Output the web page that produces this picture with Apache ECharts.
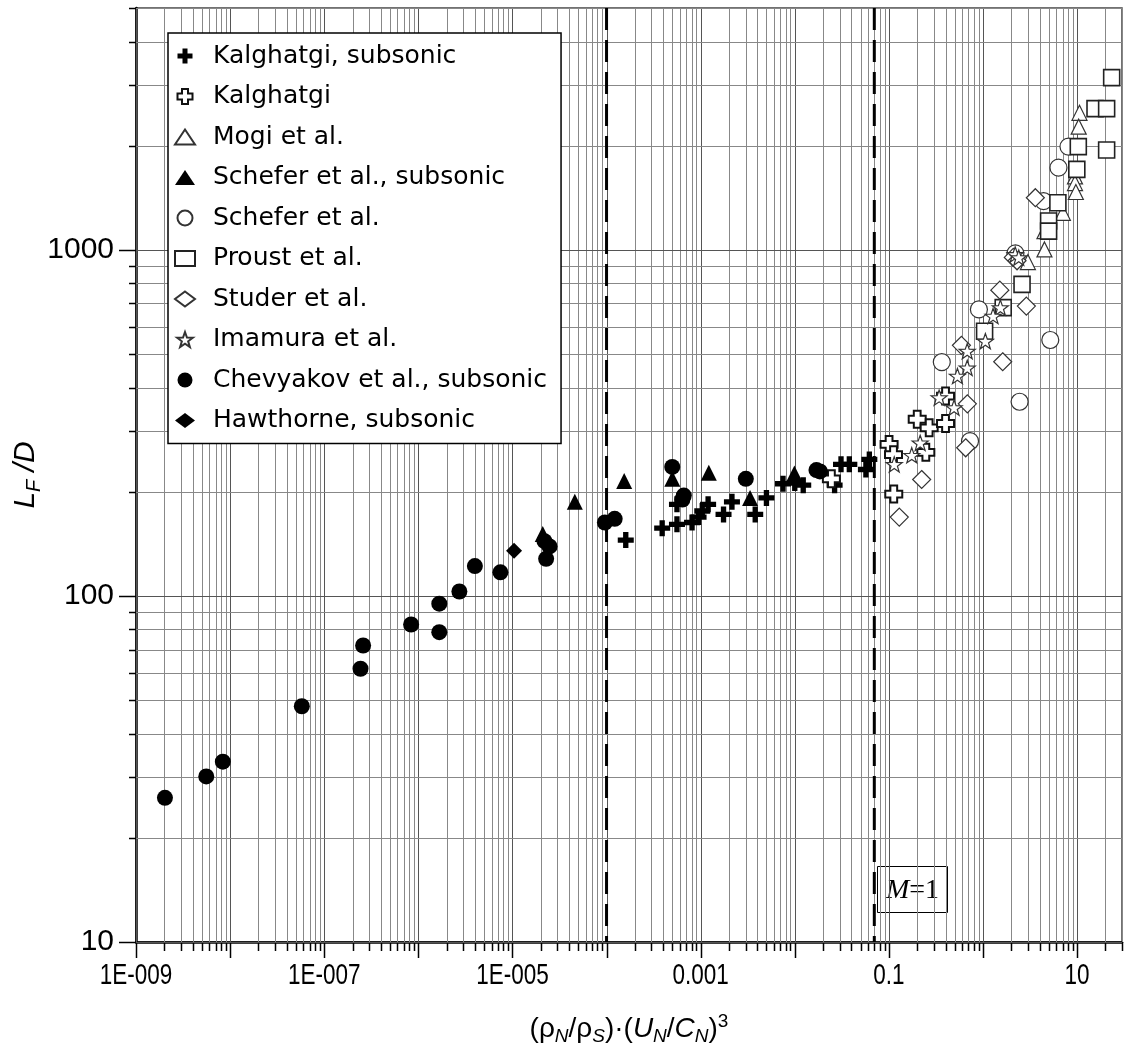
<!DOCTYPE html>
<html>
<head>
<meta charset="utf-8">
<script src="https://cdn.jsdelivr.net/npm/echarts@6/dist/echarts.min.js"></script>
<style>
html, body { margin: 0; padding: 0; background: #fff; }
#chart { width: 1126px; height: 1053px; }
</style>
</head>
<body>
<div id="chart"></div>
<script>
// axis ranges
const xMin = 1e-9, xMax = 30;
const yMin = 10, yMax = 5000;

// grid / tick positions
const xDecades = [1e-9, 1e-8, 1e-7, 1e-6, 1e-5, 1e-4, 1e-3, 1e-2, 1e-1, 1, 10];
const yDecades = [10, 100, 1000];
const minorSteps = [2, 3, 4, 5, 6, 7, 8, 9];
const xLabelValues = [1e-9, 1e-7, 1e-5, 1e-3, 0.1, 10];
const xLabelTexts = ['1E-009', '1E-007', '1E-005', '0.001', '0.1', '10'];
const yLabelValues = [10, 100, 1000];
const yLabelTexts = ['10', '100', '1000'];

// dashed vertical lines
const dashedX = [1e-4, 0.07];

// data [x, L_F/D]
const kalghatgiSub = [
  [1.6e-4, 145], [3.9e-4, 157], [5.6e-4, 161], [5.6e-4, 184], [8.1e-4, 163], [9.5e-4, 169],
  [1.04e-3, 176], [1.2e-3, 184], [1.75e-3, 172], [2.15e-3, 187], [3.8e-3, 172], [5.0e-3, 192],
  [7.5e-3, 211], [0.010, 212], [0.0123, 209], [0.0265, 209], [0.031, 240], [0.038, 240],
  [0.057, 232], [0.062, 248]
];
const kalghatgi = [
  [0.0245, 218], [0.1005, 274], [0.112, 256], [0.1127, 197], [0.20, 324], [0.247, 260],
  [0.268, 306], [0.40, 315], [0.40, 378]
];
const mogi = [
  [10.6, 2490], [10.4, 2270], [9.5, 1630], [9.5, 1560], [9.7, 1470], [7.06, 1280],
  [4.5, 1133], [4.5, 1003], [3.0, 922]
];
const scheferSub = [
  [2.1e-5, 151], [4.6e-5, 187], [1.54e-4, 215], [5.0e-4, 218], [1.22e-3, 227], [3.35e-3, 192],
  [9.9e-3, 226]
];
const schefer = [
  [8.1, 1988], [6.34, 1728], [4.4, 1384], [2.21, 977], [0.905, 673], [5.19, 549],
  [0.365, 474], [2.45, 364], [0.728, 280]
];
const proust = [
  [23.3, 3146], [15.5, 2560], [20.6, 2560], [20.6, 1944], [10.3, 1988], [9.93, 1709],
  [6.25, 1369], [4.98, 1212], [4.98, 1133], [2.6, 795], [1.64, 681], [1.04, 582]
];
const studer = [
  [1.51, 765], [2.89, 688], [0.59, 530], [1.62, 475], [0.682, 359], [0.655, 268],
  [0.223, 217], [0.129, 169], [3.6, 1415], [2.1, 951], [2.3, 930]
];
const imamura = [
  [1.53, 681], [1.28, 644], [1.06, 545], [0.68, 510], [0.68, 456], [0.535, 432],
  [0.342, 374], [0.493, 350], [0.215, 277], [0.175, 255], [0.114, 240], [2.2, 970], [2.4, 950]
];
const chevyakov = [
  [2.03e-9, 26.1], [5.58e-9, 30.1], [8.37e-9, 33.2], [5.78e-8, 48.0], [2.43e-7, 61.6],
  [2.59e-7, 71.9], [8.38e-7, 82.7], [1.67e-6, 95.0], [1.67e-6, 78.6], [2.73e-6, 103],
  [3.99e-6, 122], [7.45e-6, 117], [2.19e-5, 144], [2.48e-5, 139], [2.28e-5, 128],
  [9.6e-5, 163], [1.22e-4, 167], [4.99e-4, 236], [6.62e-4, 195], [6.4e-4, 190],
  [3.02e-3, 218], [0.017, 231], [0.0185, 229]
];
const hawthorne = [[1.04e-5, 135]];

// symbols
const PLUS = 'path://M-1,-3L1,-3L1,-1L3,-1L3,1L1,1L1,3L-1,3L-1,1L-3,1L-3,-1L-1,-1Z';
const OPEN_PLUS = 'path://M-1,-2.5L1,-2.5L1,-1L2.5,-1L2.5,1L1,1L1,2.5L-1,2.5L-1,1L-2.5,1L-2.5,-1L-1,-1Z';
const STAR = 'path://M0,-10L2.35,-3.24L9.51,-3.09L3.8,1.24L5.88,8.09L0,4L-5.88,8.09L-3.8,1.24L-9.51,-3.09L-2.35,-3.24Z';

const FILLED = { color: '#000', borderColor: '#000', borderWidth: 0, opacity: 1 };
const OPEN = { color: '#fff', borderColor: '#333', borderWidth: 1.2, opacity: 1 };

const groups = [
  { name: 'Kalghatgi, subsonic', data: kalghatgiSub, symbol: PLUS, size: 16, style: FILLED },
  { name: 'Kalghatgi', data: kalghatgi, symbol: OPEN_PLUS, size: 17, style: { color: '#fff', borderColor: '#111', borderWidth: 2, opacity: 1 } },
  { name: 'Mogi et al.', data: mogi, symbol: 'triangle', size: 15, style: OPEN },
  { name: 'Schefer et al., subsonic', data: scheferSub, symbol: 'triangle', size: 16, style: FILLED },
  { name: 'Schefer et al.', data: schefer, symbol: 'circle', size: 17, style: OPEN },
  { name: 'Proust et al.', data: proust, symbol: 'rect', size: 16, style: { color: '#fff', borderColor: '#222', borderWidth: 1.6, opacity: 1 } },
  { name: 'Studer et al.', data: studer, symbol: 'diamond', size: 18, style: OPEN },
  { name: 'Imamura et al.', data: imamura, symbol: STAR, size: 16, style: OPEN },
  { name: 'Chevyakov et al., subsonic', data: chevyakov, symbol: 'circle', size: 16, style: FILLED },
  { name: 'Hawthorne, subsonic', data: hawthorne, symbol: 'diamond', size: 16, style: FILLED }
];

const xTicks = [];
xDecades.forEach(d => {
  xTicks.push([d, yMin, 1]);
  minorSteps.forEach(s => { if (s * d < xMax * 1.001) xTicks.push([s * d, yMin, 0]); });
});
const yTicks = [];
yDecades.forEach(d => {
  yTicks.push([xMin, d, 1]);
  minorSteps.forEach(s => { if (s * d < yMax * 1.001) yTicks.push([xMin, s * d, 0]); });
});

const LABEL_FONT = 'Liberation Sans, Arial, sans-serif';

function renderXTick(params, api) {
  const cs = params.coordSys;
  const major = api.value(2) === 1;
  const x = Math.round(api.coord([api.value(0), yMin])[0]) + 0.5;
  const bottom = cs.y + cs.height;
  return {
    type: 'group',
    children: [
      { type: 'line', shape: { x1: x, y1: cs.y, x2: x, y2: bottom }, style: { stroke: major ? '#555' : '#888', lineWidth: 1 } },
      { type: 'line', shape: { x1: x, y1: bottom, x2: x, y2: bottom + (major ? 16 : 9) }, style: { stroke: '#000', lineWidth: 1.5 } }
    ]
  };
}

function renderYTick(params, api) {
  const cs = params.coordSys;
  const major = api.value(2) === 1;
  const y = Math.round(api.coord([xMin, api.value(1)])[1]) + 0.5;
  return {
    type: 'group',
    children: [
      { type: 'line', shape: { x1: cs.x, y1: y, x2: cs.x + cs.width, y2: y }, style: { stroke: major ? '#555' : '#888', lineWidth: 1 } },
      { type: 'line', shape: { x1: cs.x - (major ? 17 : 7), y1: y, x2: cs.x, y2: y }, style: { stroke: '#000', lineWidth: 1.5 } }
    ]
  };
}

function renderDashed(params, api) {
  const cs = params.coordSys;
  const x = api.coord([api.value(0), yMin])[0];
  return {
    type: 'line',
    shape: { x1: x, y1: cs.y, x2: x, y2: cs.y + cs.height },
    style: { stroke: '#000', lineWidth: 3, lineDash: [22, 10] }
  };
}

function renderXLabel(params, api) {
  const cs = params.coordSys;
  const p = api.coord([api.value(0), yMin]);
  return {
    type: 'text',
    x: p[0], y: cs.y + cs.height + 34,
    scaleX: 0.75,
    style: {
      text: xLabelTexts[params.dataIndex], font: '30px ' + LABEL_FONT,
      fill: '#000', align: 'center', verticalAlign: 'middle'
    }
  };
}

function renderYLabel(params, api) {
  const cs = params.coordSys;
  const p = api.coord([xMin, api.value(1)]);
  return {
    type: 'text',
    x: cs.x - 22, y: p[1],
    style: {
      text: yLabelTexts[params.dataIndex], font: '30px ' + LABEL_FONT,
      fill: '#000', align: 'right', verticalAlign: 'middle'
    }
  };
}

const series = [
  { type: 'custom', name: 'xgrid', data: xTicks, renderItem: renderXTick, silent: true, clip: false, z: 1 },
  { type: 'custom', name: 'ygrid', data: yTicks, renderItem: renderYTick, silent: true, clip: false, z: 1 },
  { type: 'custom', name: 'dashed', data: dashedX.map(v => [v, yMin]), renderItem: renderDashed, silent: true, clip: false, z: 3 },
  { type: 'custom', name: 'xlabels', data: xLabelValues.map(v => [v, yMin]), renderItem: renderXLabel, silent: true, clip: false, z: 2 },
  { type: 'custom', name: 'ylabels', data: yLabelValues.map(v => [xMin, v]), renderItem: renderYLabel, silent: true, clip: false, z: 2 }
];

groups.forEach(g => {
  series.push({
    type: 'scatter',
    name: g.name,
    data: g.data,
    symbol: g.symbol,
    symbolSize: g.size,
    symbolKeepAspect: true,
    itemStyle: g.style,
    silent: true,
    z: 5
  });
});

const chart = echarts.init(document.getElementById('chart'));
chart.setOption({
  animation: false,
  backgroundColor: '#fff',
  grid: {
    left: 131, top: 8, right: 4, bottom: 111,
    show: true, borderColor: '#444', borderWidth: 1.5, backgroundColor: 'transparent'
  },
  xAxis: {
    type: 'log', logBase: 10, min: xMin, max: xMax,
    axisLine: { show: true, lineStyle: { color: '#000', width: 2.5 } },
    axisTick: { show: false }, axisLabel: { show: false }, splitLine: { show: false },
    name: '(ρ{sub|N}/ρ{sub|S})·({i|U}{sub|N}/{i|C}{sub|N}){sup|3}',
    nameLocation: 'middle', nameGap: 70,
    nameTextStyle: {
      fontFamily: LABEL_FONT, fontSize: 28, color: '#000', lineHeight: 34,
      rich: {
        i: { fontFamily: LABEL_FONT, fontSize: 28, fontStyle: 'italic', lineHeight: 34 },
        sub: { fontFamily: LABEL_FONT, fontSize: 19, fontStyle: 'italic', lineHeight: 18, verticalAlign: 'bottom' },
        sup: { fontFamily: LABEL_FONT, fontSize: 19, lineHeight: 18, verticalAlign: 'top' }
      }
    }
  },
  yAxis: {
    type: 'log', logBase: 10, min: yMin, max: yMax,
    axisLine: { show: true, lineStyle: { color: '#000', width: 2.5 } },
    axisTick: { show: false }, axisLabel: { show: false }, splitLine: { show: false },
    name: '{i|L}{sub|F}{i| /D}',
    nameLocation: 'middle', nameGap: 92,
    nameTextStyle: {
      fontFamily: LABEL_FONT, fontSize: 30, color: '#000', lineHeight: 36,
      rich: {
        i: { fontFamily: LABEL_FONT, fontSize: 30, fontStyle: 'italic', lineHeight: 36 },
        sub: { fontFamily: LABEL_FONT, fontSize: 20, fontStyle: 'italic', lineHeight: 20, verticalAlign: 'bottom' }
      }
    }
  },
  legend: {
    orient: 'vertical', left: 168, top: 33,
    padding: [10, 14, 10, 6],
    itemWidth: 20, itemHeight: 15, itemGap: 14.5,
    backgroundColor: '#fff', borderColor: '#000', borderWidth: 1.5,
    selectedMode: false,
    textStyle: { fontFamily: 'DejaVu Sans', fontSize: 25, color: '#000', lineHeight: 26, padding: [0, 0, 0, 13] },
    data: groups.map(g => g.name)
  },
  graphic: [{
    type: 'group', left: 877, top: 866,
    children: [
      { type: 'rect', shape: { x: 0, y: 0, width: 70, height: 46 }, style: { fill: '#fff', stroke: '#000', lineWidth: 1 } },
      {
        type: 'text', x: 35, y: 24,
        style: {
          text: '{i|M}{r|=1}', align: 'center', verticalAlign: 'middle',
          rich: {
            i: { fontFamily: 'Liberation Serif', fontSize: 28, fontStyle: 'italic', fill: '#000' },
            r: { fontFamily: 'Liberation Serif', fontSize: 28, fill: '#000' }
          }
        }
      }
    ]
  }],
  series: series
});
</script>
</body>
</html>
